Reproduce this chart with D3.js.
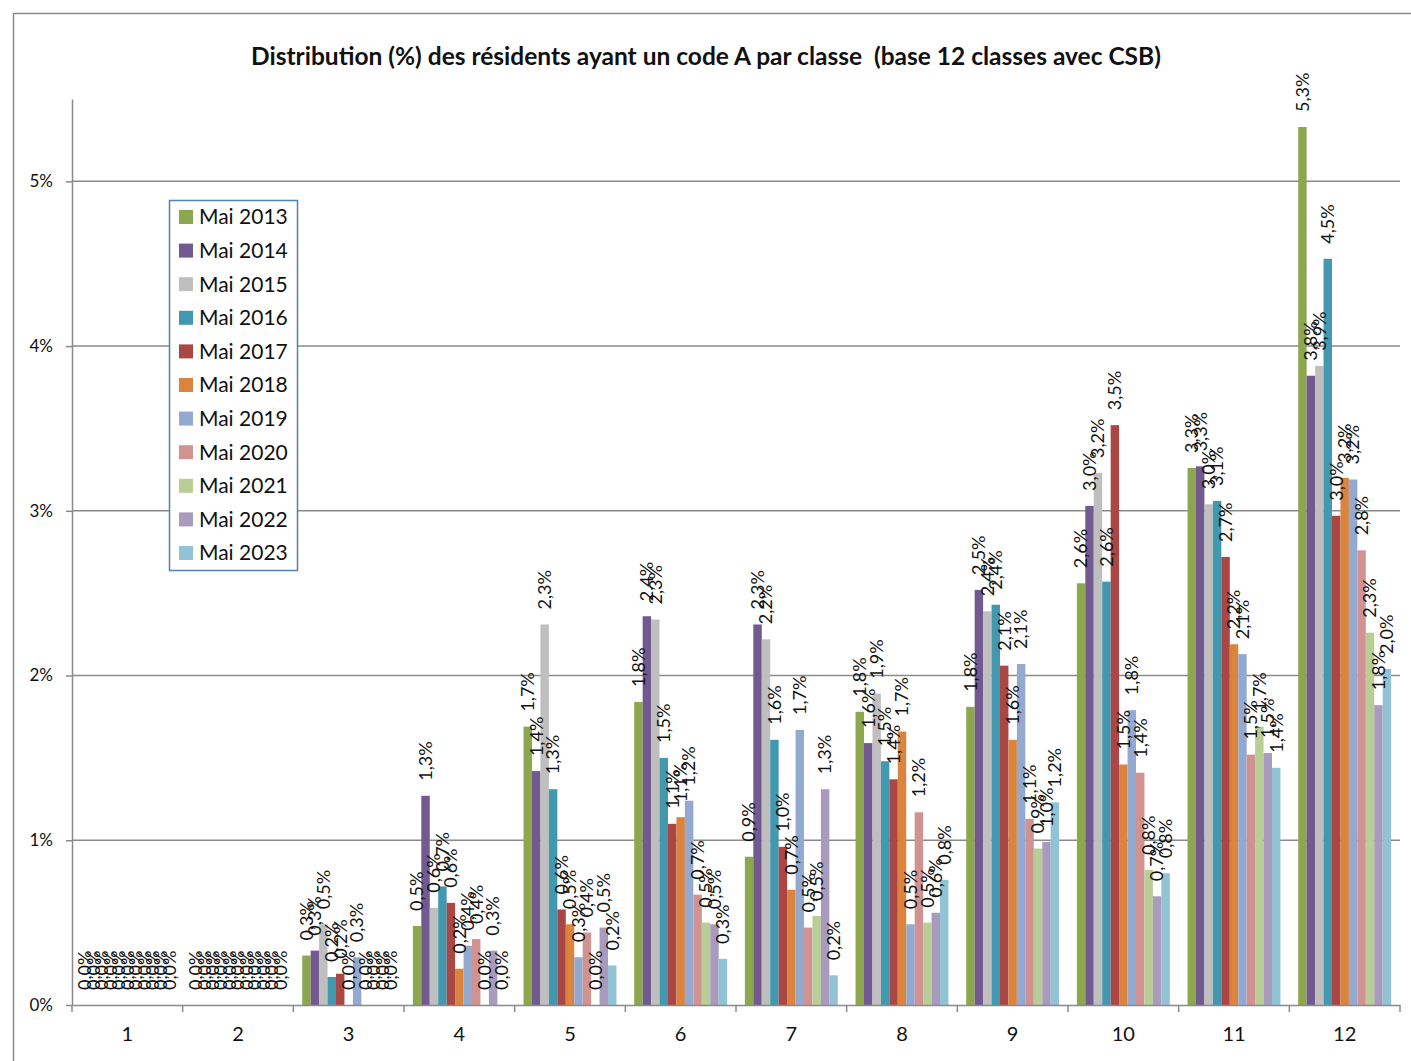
<!DOCTYPE html>
<html>
<head>
<meta charset="utf-8">
<script src="https://cdn.jsdelivr.net/npm/d3@7"></script>
<style>
  body { margin: 0; background: #fff; }
  text { font-family: Lato, "Open Sans", sans-serif; fill: #111; }
</style>
</head>
<body>
<script>
// classes and series
var categories = ["1","2","3","4","5","6","7","8","9","10","11","12"]
var series = ["Mai 2013","Mai 2014","Mai 2015","Mai 2016","Mai 2017","Mai 2018",
              "Mai 2019","Mai 2020","Mai 2021","Mai 2022","Mai 2023"]
var colors = ["#8CA74E","#725A91","#BFBFBF","#4198AF","#AA4644","#DB843D",
              "#93A9CF","#D19392","#B9CD96","#A99BBD","#92C3D4"]

// % per class, one array per year
var mai2013 = [0,0,0.30,0.48,1.69,1.84,0.90,1.78,1.81,2.56,3.26,5.33]
var mai2014 = [0,0,0.33,1.27,1.42,2.36,2.31,1.59,2.52,3.03,3.27,3.82]
var mai2015 = [0,0,0.49,0.59,2.31,2.34,2.22,1.89,2.39,3.23,3.04,3.88]
var mai2016 = [0,0,0.17,0.72,1.31,1.50,1.61,1.48,2.43,2.57,3.06,4.53]
var mai2017 = [0,0,0.19,0.62,0.58,1.10,0.96,1.37,2.06,3.52,2.72,2.97]
var mai2018 = [0,0,0,0.22,0.49,1.14,0.70,1.66,1.61,1.46,2.19,3.20]
var mai2019 = [0,0,0.29,0.36,0.29,1.24,1.67,0.49,2.07,1.79,2.13,3.19]
var mai2020 = [0,0,0,0.40,0.44,0.67,0.47,1.17,1.13,1.41,1.52,2.76]
var mai2021 = [0,0,0,0,0,0.50,0.54,0.50,0.95,0.82,1.69,2.26]
var mai2022 = [0,0,0,0.33,0.47,0.49,1.31,0.56,0.99,0.66,1.53,1.82]
var mai2023 = [0,0,0,0,0.24,0.28,0.18,0.76,1.23,0.80,1.44,2.04]
var yTicks = [0,1,2,3,4,5]

var title = "Distribution (%) des résidents ayant un code A par classe  (base 12 classes avec CSB)"

function main() {
  var width = 1411, height = 1061
  var left = 72, right = 1400, top = 99, bottom = 1005

  var values = [mai2013,mai2014,mai2015,mai2016,mai2017,mai2018,mai2019,mai2020,mai2021,mai2022,mai2023]
  var data = []
  series.forEach(function(s, i) {
    categories.forEach(function(c, j) {
      data.push({serie: s, cat: c, v: values[i][j], color: colors[i]})
    })
  })

  var canvas = d3.select("body").append("svg")
    .attr("width", width)
    .attr("height", height)

  canvas.append("rect")
    .attr("x", 13.5).attr("y", 13.5)
    .attr("width", 1430).attr("height", 1100)
    .attr("fill", "#fff").attr("stroke", "#8a8a8a").attr("stroke-width", 1.5)

  var x0 = d3.scaleBand().domain(categories).range([left, right]).paddingInner(0).paddingOuter(0)
  var x1 = d3.scaleBand().domain(series).range([0, x0.bandwidth()]).paddingInner(0).paddingOuter(1.05)
  var y = d3.scaleLinear().domain([0, 5.5]).range([bottom, top])

  // gridlines
  canvas.append("g").selectAll("line")
    .data(yTicks.slice(1))
    .enter().append("line")
    .attr("x1", left).attr("x2", right)
    .attr("y1", function(d) { return y(d) }).attr("y2", function(d) { return y(d) })
    .attr("stroke", "#8a8a8a").attr("stroke-width", 1.5)

  // bars
  canvas.append("g").selectAll("rect")
    .data(data)
    .enter().append("rect")
    .attr("x", function(d) { return x0(d.cat) + x1(d.serie) })
    .attr("y", function(d) { return y(d.v) })
    .attr("width", x1.bandwidth())
    .attr("height", function(d) { return bottom - y(d.v) })
    .attr("fill", function(d) { return d.color })

  // value labels
  var fmt = d3.format(".1f")
  canvas.append("g").selectAll("text")
    .data(data)
    .enter().append("text")
    .attr("transform", function(d) {
      var cx = x0(d.cat) + x1(d.serie) + x1.bandwidth() / 2
      return "translate(" + cx + "," + (y(d.v) - 15) + ") rotate(-90)"
    })
    .attr("dy", "0.35em")
    .attr("font-size", 18)
    .text(function(d) { return fmt(d.v).replace(".", ",") + "%" })

  // y axis
  var yAxis = canvas.append("g")
    .attr("transform", "translate(" + left + ",0)")
    .call(d3.axisLeft(y).tickValues(yTicks).tickFormat(function(d) { return d + "%" })
      .tickSizeInner(6).tickSizeOuter(0).tickPadding(13))
  yAxis.select(".domain").attr("stroke", "#8a8a8a").attr("stroke-width", 1.5)
  yAxis.selectAll(".tick line").attr("stroke", "#8a8a8a").attr("stroke-width", 1.5)
  yAxis.selectAll(".tick text").attr("font-size", 17).attr("font-family", "Lato, sans-serif").attr("fill", "#222")

  // x axis
  var xAxis = canvas.append("g")
    .attr("transform", "translate(0," + bottom + ")")
    .call(d3.axisBottom(x0).tickSize(0).tickPadding(22))
  xAxis.select(".domain").attr("stroke", "#8a8a8a").attr("stroke-width", 1.5)
  xAxis.selectAll(".tick text").attr("font-size", 20).attr("font-family", "Lato, sans-serif").attr("fill", "#111")
  xAxis.selectAll("line.sep")
    .data(categories.concat(["end"]))
    .enter().append("line")
    .attr("class", "sep")
    .attr("x1", function(d) { return d == "end" ? right : x0(d) })
    .attr("x2", function(d) { return d == "end" ? right : x0(d) })
    .attr("y1", 0).attr("y2", 7)
    .attr("stroke", "#8a8a8a").attr("stroke-width", 1.5)

  // title
  canvas.append("text")
    .attr("x", 706).attr("y", 65)
    .attr("text-anchor", "middle")
    .attr("font-size", 24.5)
    .attr("font-weight", "bold")
    .style("white-space", "pre")
    .attr("xml:space", "preserve")
    .text(title)

  // legend
  var legend = canvas.append("g")
  legend.append("rect")
    .attr("x", 169.5).attr("y", 200.5)
    .attr("width", 128).attr("height", 370)
    .attr("fill", "#fff").attr("stroke", "#4F81BD").attr("stroke-width", 1.5)
  var items = legend.selectAll("g.item")
    .data(series)
    .enter().append("g")
    .attr("class", "item")
    .attr("transform", function(d, i) { return "translate(179," + (217 + i * 33.6) + ")" })
  items.append("rect")
    .attr("x", 0).attr("y", -7)
    .attr("width", 14).attr("height", 14)
    .attr("fill", function(d, i) { return colors[i] })
  items.append("text")
    .attr("x", 20).attr("dy", "0.35em")
    .attr("font-size", 21)
    .text(function(d) { return d })
}

main()
</script>
</body>
</html>
